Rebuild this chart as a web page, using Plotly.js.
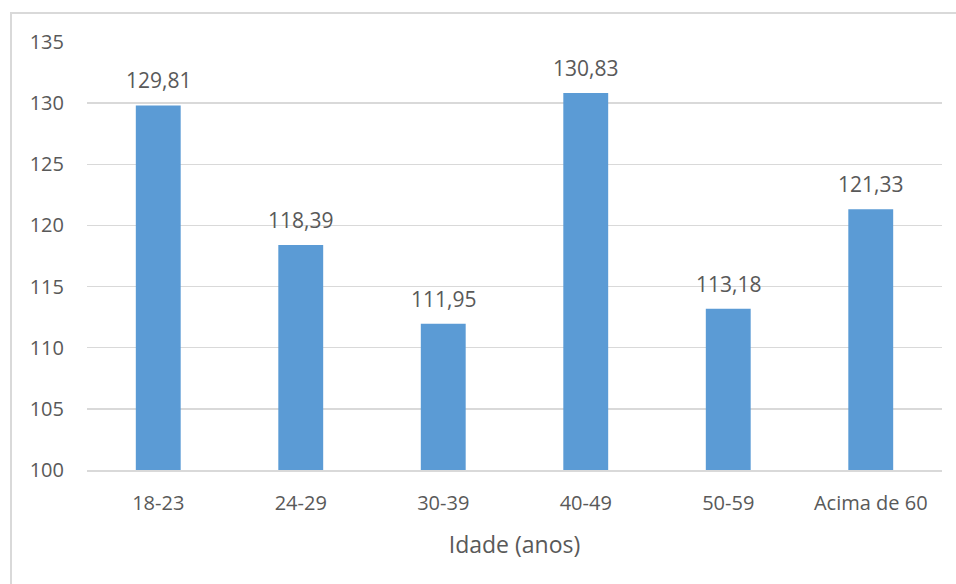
<!DOCTYPE html>
<html>
<head>
<meta charset="utf-8">
<script src="https://cdn.plot.ly/plotly-3.0.1.min.js"></script>
<style>
  html, body { margin: 0; padding: 0; background: #fff; }
  #wrap { position: relative; width: 956px; height: 584px; }
  #chart { width: 956px; height: 584px; }
  #frame {
    position: absolute; left: 10px; top: 12px; right: 0; bottom: 0;
    border-left: 2px solid #d9d9d9; border-top: 2px solid #d9d9d9;
    pointer-events: none;
  }
</style>
</head>
<body>
<div id="wrap">
  <div id="chart"></div>
  <div id="frame"></div>
</div>
<script>
// Faixas etárias e valores médios
const categories = ['18-23', '24-29', '30-39', '40-49', '50-59', 'Acima de 60'];
const values = [129.81, 118.39, 111.95, 130.83, 113.18, 121.33];
const yTicks = [100, 105, 110, 115, 120, 125, 130, 135];

const FONT = '"Open Sans", "Noto Sans", "Liberation Sans", sans-serif';
const GREY = '#595959';

const trace = {
  type: 'bar',
  x: categories,
  y: values,
  marker: { color: '#5b9bd5' },
  width: 0.315,
  hoverinfo: 'x+y'
};

// value labels sit above each bar, formatted with a decimal comma
const fmt = v => v.toFixed(2).replace('.', ',');
const labels = categories.map((c, i) => ({
  x: c,
  y: values[i],
  xref: 'x',
  yref: 'y',
  text: fmt(values[i]),
  showarrow: false,
  yanchor: 'bottom',
  yshift: 9,
  font: { family: FONT, size: 21, color: GREY }
}));

const layout = {
  width: 956,
  height: 584,
  margin: { l: 87, r: 14, t: 42, b: 114 },
  paper_bgcolor: '#ffffff',
  plot_bgcolor: '#ffffff',
  separators: ',.',
  showlegend: false,
  font: { family: FONT, size: 20, color: GREY },
  annotations: labels,
  xaxis: {
    type: 'category',
    showgrid: false,
    showline: true,
    linecolor: '#d9d9d9',
    linewidth: 2,
    ticks: '',
    ticklabelstandoff: 14,
    tickfont: { family: FONT, size: 20, color: GREY },
    title: { text: 'Idade (anos)', font: { family: FONT, size: 23, color: GREY }, standoff: 22 }
  },
  yaxis: {
    range: [100, 135],
    tickvals: yTicks,
    ticktext: yTicks.map(String),
    showgrid: true,
    gridcolor: '#d9d9d9',
    gridwidth: 1.5,
    zeroline: false,
    showline: false,
    ticks: '',
    ticklabelstandoff: 22,
    tickfont: { family: FONT, size: 20, color: GREY }
  }
};

Plotly.newPlot('chart', [trace], layout, { staticPlot: true });
</script>
</body>
</html>
